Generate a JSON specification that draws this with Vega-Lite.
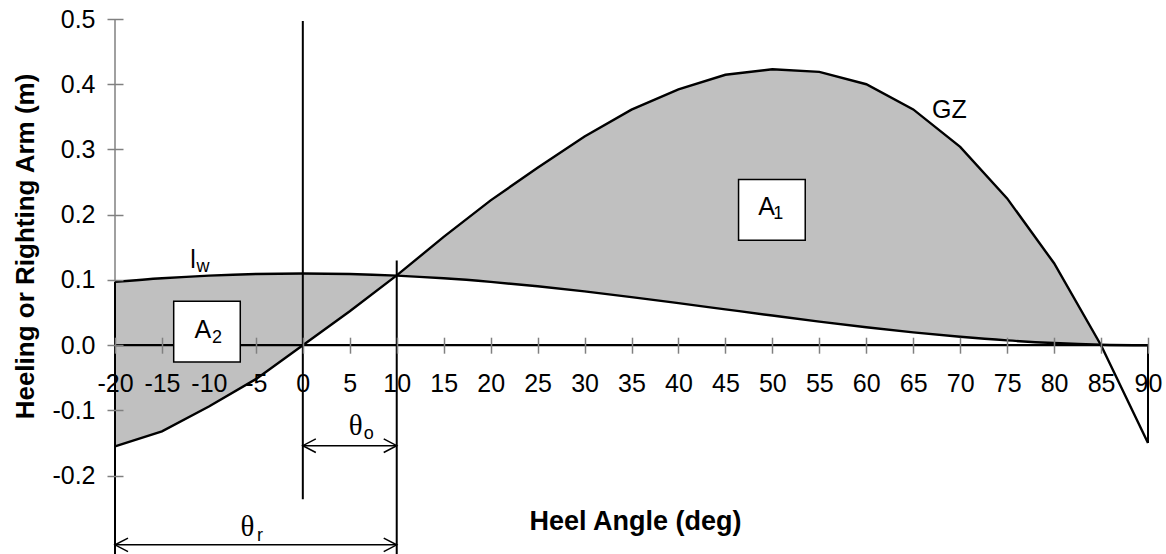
{
  "$schema": "https://vega.github.io/schema/vega-lite/v6.json",
  "width": 1033,
  "height": 535,
  "autosize": {"type": "none"},
  "padding": {"left": 115, "top": 19, "right": 18, "bottom": 0},
  "background": "white",
  "config": {"view": {"stroke": null}, "font": "Liberation Sans"},
  "datasets": {
    "curve": [
      {"angle": -20, "gz": -0.155, "lw": 0.0971},
      {"angle": -15, "gz": -0.132, "lw": 0.1026},
      {"angle": -10, "gz": -0.094, "lw": 0.1067},
      {"angle": -5, "gz": -0.052, "lw": 0.1092},
      {"angle": 0, "gz": 0.0, "lw": 0.11},
      {"angle": 5, "gz": 0.052, "lw": 0.1092},
      {"angle": 10, "gz": 0.107, "lw": 0.1067},
      {"angle": 15, "gz": 0.166, "lw": 0.1026},
      {"angle": 20, "gz": 0.222, "lw": 0.0971},
      {"angle": 25, "gz": 0.272, "lw": 0.0904},
      {"angle": 30, "gz": 0.32, "lw": 0.0825},
      {"angle": 35, "gz": 0.361, "lw": 0.0738},
      {"angle": 40, "gz": 0.392, "lw": 0.0645},
      {"angle": 45, "gz": 0.4145, "lw": 0.055},
      {"angle": 50, "gz": 0.423, "lw": 0.0455},
      {"angle": 55, "gz": 0.419, "lw": 0.0362},
      {"angle": 60, "gz": 0.4, "lw": 0.0275},
      {"angle": 65, "gz": 0.3614, "lw": 0.0196},
      {"angle": 70, "gz": 0.304, "lw": 0.0129},
      {"angle": 75, "gz": 0.225, "lw": 0.0074},
      {"angle": 80, "gz": 0.1256, "lw": 0.0033},
      {"angle": 85, "gz": 0.0, "lw": 0.0008},
      {"angle": 90, "gz": -0.15, "lw": 0.0}
    ],
    "vlines": [
      {"a": -20, "lo": -0.32, "hi": 0.097},
      {"a": 0, "lo": -0.236, "hi": 0.497},
      {"a": 10, "lo": -0.32, "hi": 0.13},
      {"a": 90, "lo": -0.15, "hi": 0.0}
    ],
    "yaxisline": [{"a": -20, "lo": -0.2, "hi": 0.5}],
    "zeroline": [{"from": -20, "to": 90, "v": 0}],
    "arrows": [
      {"from": 0, "to": 10, "v": -0.154},
      {"from": -20, "to": 10, "v": -0.306}
    ],
    "headsLeft": [{"a": 0, "v": -0.154}, {"a": -20, "v": -0.306}],
    "headsRight": [{"a": 10, "v": -0.154}, {"a": 10, "v": -0.306}],
    "boxes": [
      {"x1": -13.75, "x2": -6.66, "y1": -0.0256, "y2": 0.0674},
      {"x1": 46.4, "x2": 53.5, "y1": 0.161, "y2": 0.254}
    ],
    "mainText": [
      {"t": "GZ", "a": 67.0, "v": 0.3485},
      {"t": "l", "a": -12.0, "v": 0.1184},
      {"t": "A", "a": -11.54, "v": 0.0107},
      {"t": "A", "a": 48.5, "v": 0.1995}
    ],
    "subText": [
      {"t": "w", "a": -11.33, "v": 0.1127},
      {"t": "2", "a": -9.66, "v": 0.003},
      {"t": "1", "a": 50.1, "v": 0.1934},
      {"t": "o", "a": 6.48, "v": -0.144},
      {"t": "r", "a": -4.87, "v": -0.3008}
    ],
    "thetaText": [
      {"t": "θ", "a": 4.89, "v": -0.137},
      {"t": "θ", "a": -6.64, "v": -0.293}
    ]
  },
  "layer": [
    {
      "data": {"name": "curve"},
      "transform": [{"filter": "datum.angle <= 85"}],
      "mark": {"type": "area", "color": "#c0c0c0", "opacity": 1},
      "encoding": {
        "x": {
          "field": "angle", "type": "quantitative",
          "scale": {"domain": [-20, 90], "nice": false, "zero": false},
          "axis": {
            "title": "Heel Angle (deg)",
            "values": [-20, -15, -10, -5, 0, 5, 10, 15, 20, 25, 30, 35, 40, 45, 50, 55, 60, 65, 70, 75, 80, 85, 90],
            "format": "d",
            "labelExpr": "replace(datum.label, '−', '-')",
            "offset": -216.8,
            "domain": false,
            "grid": false,
            "tickSize": 16,
            "tickWidth": 1.5,
            "tickColor": {"condition": {"test": "datum.value == -10", "value": "transparent"}, "value": "#808080"},
            "labelFont": "Liberation Sans",
            "labelFontSize": 25,
            "labelColor": "black",
            "labelPadding": 18,
            "labelFlush": false,
            "labelOverlap": false,
            "labelBound": false,
            "titleFont": "Liberation Sans",
            "titleFontSize": 27,
            "titleFontWeight": "bold",
            "titleColor": "black",
            "titleX": 520,
            "titleY": 192,
            "titleBaseline": "alphabetic",
            "zindex": 1
          }
        },
        "y": {
          "field": "gz", "type": "quantitative",
          "scale": {"domain": [-0.32, 0.5], "nice": false, "zero": false},
          "axis": {
            "title": "Heeling or Righting Arm (m)",
            "values": [-0.2, -0.1, 0, 0.1, 0.2, 0.3, 0.4, 0.5],
            "format": ".1f",
            "labelExpr": "replace(datum.label, '−', '-')",
            "offset": -8,
            "domain": false,
            "grid": false,
            "tickSize": 16,
            "tickWidth": 1.5,
            "tickColor": "#808080",
            "labelFont": "Liberation Sans",
            "labelFontSize": 25,
            "labelColor": "black",
            "labelPadding": 12,
            "labelOverlap": false,
            "labelBound": false,
            "titleFont": "Liberation Sans",
            "titleFontSize": 26,
            "titleFontWeight": "bold",
            "titleColor": "black",
            "titleAngle": -90,
            "titleX": -90,
            "titleY": 227,
            "titleBaseline": "alphabetic",
            "zindex": 1
          }
        },
        "y2": {"field": "lw"}
      }
    },
    {
      "data": {"name": "yaxisline"},
      "mark": {"type": "rule", "color": "#808080", "strokeWidth": 1.5},
      "encoding": {
        "x": {"field": "a", "type": "quantitative", "scale": {"domain": [-20, 90], "nice": false, "zero": false}},
        "y": {"field": "lo", "type": "quantitative", "scale": {"domain": [-0.32, 0.5], "nice": false, "zero": false}},
        "y2": {"field": "hi"}
      }
    },
    {
      "data": {"name": "curve"},
      "mark": {"type": "line", "color": "black", "strokeWidth": 2.4},
      "encoding": {
        "x": {"field": "angle", "type": "quantitative", "scale": {"domain": [-20, 90], "nice": false, "zero": false}},
        "y": {"field": "gz", "type": "quantitative", "scale": {"domain": [-0.32, 0.5], "nice": false, "zero": false}}
      }
    },
    {
      "data": {"name": "curve"},
      "mark": {"type": "line", "color": "black", "strokeWidth": 2.4, "interpolate": "monotone"},
      "encoding": {
        "x": {"field": "angle", "type": "quantitative", "scale": {"domain": [-20, 90], "nice": false, "zero": false}},
        "y": {"field": "lw", "type": "quantitative", "scale": {"domain": [-0.32, 0.5], "nice": false, "zero": false}}
      }
    },
    {
      "data": {"name": "zeroline"},
      "mark": {"type": "rule", "color": "black", "strokeWidth": 2.2},
      "encoding": {
        "x": {"field": "from", "type": "quantitative", "scale": {"domain": [-20, 90], "nice": false, "zero": false}},
        "x2": {"field": "to"},
        "y": {"field": "v", "type": "quantitative", "scale": {"domain": [-0.32, 0.5], "nice": false, "zero": false}}
      }
    },
    {
      "data": {"name": "vlines"},
      "mark": {"type": "rule", "color": "black", "strokeWidth": 2},
      "encoding": {
        "x": {"field": "a", "type": "quantitative", "scale": {"domain": [-20, 90], "nice": false, "zero": false}},
        "y": {"field": "lo", "type": "quantitative", "scale": {"domain": [-0.32, 0.5], "nice": false, "zero": false}},
        "y2": {"field": "hi"}
      }
    },
    {
      "data": {"name": "arrows"},
      "mark": {"type": "rule", "color": "black", "strokeWidth": 1.5},
      "encoding": {
        "x": {"field": "from", "type": "quantitative", "scale": {"domain": [-20, 90], "nice": false, "zero": false}},
        "x2": {"field": "to"},
        "y": {"field": "v", "type": "quantitative", "scale": {"domain": [-0.32, 0.5], "nice": false, "zero": false}}
      }
    },
    {
      "data": {"name": "headsLeft"},
      "mark": {"type": "point", "shape": "M 2 -1.05 L 0 0 L 2 1.05", "filled": false, "stroke": "black", "strokeWidth": 1.5, "size": 169, "opacity": 1},
      "encoding": {
        "x": {"field": "a", "type": "quantitative", "scale": {"domain": [-20, 90], "nice": false, "zero": false}},
        "y": {"field": "v", "type": "quantitative", "scale": {"domain": [-0.32, 0.5], "nice": false, "zero": false}}
      }
    },
    {
      "data": {"name": "headsRight"},
      "mark": {"type": "point", "shape": "M -2 -1.05 L 0 0 L -2 1.05", "filled": false, "stroke": "black", "strokeWidth": 1.5, "size": 169, "opacity": 1},
      "encoding": {
        "x": {"field": "a", "type": "quantitative", "scale": {"domain": [-20, 90], "nice": false, "zero": false}},
        "y": {"field": "v", "type": "quantitative", "scale": {"domain": [-0.32, 0.5], "nice": false, "zero": false}}
      }
    },
    {
      "data": {"name": "boxes"},
      "mark": {"type": "rect", "fill": "white", "stroke": "black", "strokeWidth": 1.5},
      "encoding": {
        "x": {"field": "x1", "type": "quantitative", "scale": {"domain": [-20, 90], "nice": false, "zero": false}},
        "x2": {"field": "x2"},
        "y": {"field": "y1", "type": "quantitative", "scale": {"domain": [-0.32, 0.5], "nice": false, "zero": false}},
        "y2": {"field": "y2"}
      }
    },
    {
      "data": {"name": "mainText"},
      "mark": {"type": "text", "font": "Liberation Sans", "fontSize": 25, "color": "black", "align": "left", "baseline": "alphabetic"},
      "encoding": {
        "x": {"field": "a", "type": "quantitative", "scale": {"domain": [-20, 90], "nice": false, "zero": false}},
        "y": {"field": "v", "type": "quantitative", "scale": {"domain": [-0.32, 0.5], "nice": false, "zero": false}},
        "text": {"field": "t"}
      }
    },
    {
      "data": {"name": "subText"},
      "mark": {"type": "text", "font": "Liberation Sans", "fontSize": 18, "color": "black", "align": "left", "baseline": "alphabetic"},
      "encoding": {
        "x": {"field": "a", "type": "quantitative", "scale": {"domain": [-20, 90], "nice": false, "zero": false}},
        "y": {"field": "v", "type": "quantitative", "scale": {"domain": [-0.32, 0.5], "nice": false, "zero": false}},
        "text": {"field": "t"}
      }
    },
    {
      "data": {"name": "thetaText"},
      "mark": {"type": "text", "font": "Liberation Serif", "fontSize": 29, "color": "black", "align": "left", "baseline": "alphabetic"},
      "encoding": {
        "x": {"field": "a", "type": "quantitative", "scale": {"domain": [-20, 90], "nice": false, "zero": false}},
        "y": {"field": "v", "type": "quantitative", "scale": {"domain": [-0.32, 0.5], "nice": false, "zero": false}},
        "text": {"field": "t"}
      }
    }
  ]
}
